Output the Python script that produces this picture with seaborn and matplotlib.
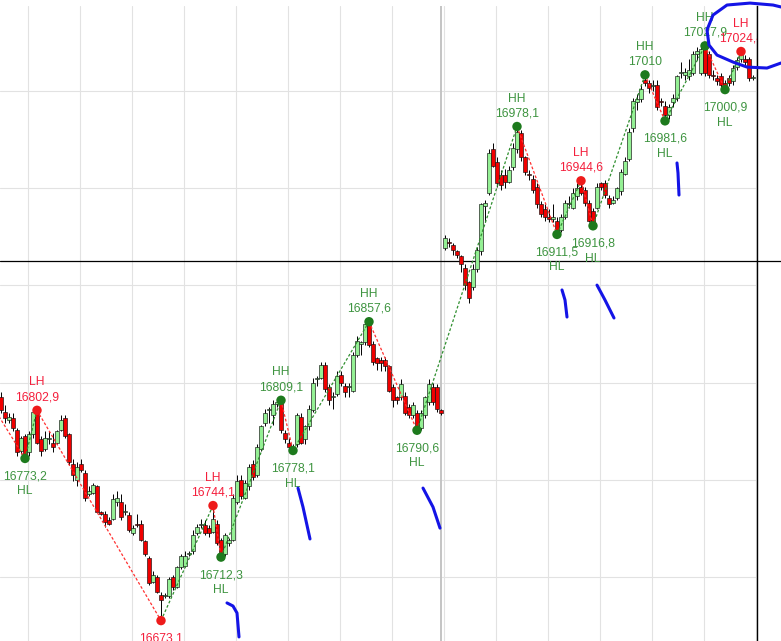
import numpy as np
import pandas as pd
import matplotlib
matplotlib.use("Agg")
import matplotlib.pyplot as plt
import matplotlib.transforms as mtransforms
import seaborn as sns

# ---------------- data ----------------
opens = [
    16811, 16802, 16797, 16798, 16791, 16778, 16787, 16777, 16788, 16802,
    16785, 16779, 16785, 16783, 16783, 16791, 16798, 16788, 16770, 16760,
    16770, 16764, 16751, 16752, 16756, 16740, 16739, 16735, 16736, 16746,
    16746, 16740, 16738, 16727, 16733, 16733, 16722, 16712, 16697, 16700,
    16689, 16688, 16688, 16700, 16694, 16706, 16707, 16714, 16716, 16727,
    16732, 16732, 16730, 16728, 16733, 16723, 16714, 16721, 16723, 16746,
    16760, 16749, 16756, 16770, 16763, 16779, 16795, 16803, 16800, 16807,
    16808, 16789, 16783, 16780, 16782, 16799, 16785, 16793, 16803, 16822,
    16823, 16831, 16817, 16811, 16813, 16825, 16818, 16817, 16815, 16837,
    16844, 16845, 16857, 16844, 16835, 16834, 16834, 16830, 16817, 16811,
    16811, 16812, 16805, 16800, 16801, 16792, 16800, 16808, 16817, 16817,
    16803, 16903, 16907, 16905, 16901, 16898, 16891, 16882, 16879, 16890,
    16901, 16929, 16937, 16964, 16956, 16948, 16948, 16944, 16953, 16964,
    16974, 16959, 16949, 16946, 16941, 16930, 16927, 16922, 16921, 16920,
    16914, 16922, 16930, 16928, 16935, 16941, 16939, 16931, 16926, 16928,
    16943, 16943, 16934, 16931, 16934, 16938, 16949, 16958, 16977, 16993,
    16995, 17007, 17005, 17003, 17004, 16994, 16991, 16985, 16993, 16996,
    17011, 17010, 17009, 17011, 17023, 17011, 17027, 17023, 17010, 17008,
    17009, 17005, 17008, 17006, 17015, 17020, 17020, 17020, 17008,
]
closes = [
    16803, 16798, 16799, 16792, 16777, 16786, 16775, 16788, 16802, 16783,
    16778, 16786, 16785.5, 16780, 16790, 16797, 16787, 16771, 16763, 16768,
    16766, 16749, 16753, 16757, 16740, 16739, 16734, 16733, 16748, 16749,
    16737, 16740.5, 16729, 16730, 16732, 16723, 16714, 16696, 16701, 16691,
    16686, 16689, 16699, 16694, 16706, 16713, 16713, 16715, 16726, 16731,
    16733, 16727, 16727, 16736, 16721, 16713.5, 16726, 16723, 16749, 16759,
    16750, 16758, 16768, 16762, 16780, 16793, 16801, 16804, 16807, 16808,
    16791, 16785, 16780, 16779, 16800, 16783, 16793, 16804, 16820, 16822.5,
    16831, 16816, 16809, 16812, 16824, 16820, 16814, 16817.5, 16837, 16846,
    16845, 16856, 16843, 16833, 16832, 16832, 16830, 16815, 16809, 16809,
    16819, 16801, 16800, 16806, 16793, 16801, 16811, 16819, 16808, 16804,
    16801, 16909, 16906, 16902, 16899, 16893, 16880, 16872, 16890, 16902,
    16930, 16931, 16962, 16954, 16943, 16942, 16944, 16951, 16965, 16975,
    16959, 16950, 16948, 16939, 16930, 16924, 16922, 16921, 16922, 16913,
    16922, 16931, 16931, 16937, 16940, 16937, 16931, 16920, 16918, 16941,
    16941, 16936, 16930, 16933, 16940, 16950, 16957, 16975, 16994, 16995,
    17001, 17005, 17002, 17004, 16990, 16993, 16985, 16990, 16996, 17009,
    17012, 17012, 17013, 17023, 17025, 17026, 17011, 17010, 17009, 17006,
    17004, 17003, 17005, 17014, 17019, 17023, 17018, 17008, 17008.5,
]
highs = [
    16814, 16806, 16801, 16801, 16792, 16787, 16788, 16790, 16803, 16802.9,
    16787, 16790, 16790, 16789, 16791, 16800, 16800, 16789, 16773, 16771,
    16773, 16766, 16756, 16758, 16757, 16741, 16741, 16737, 16751, 16753,
    16751, 16745, 16740, 16732, 16739, 16735, 16723, 16713, 16704, 16701,
    16691, 16690, 16700, 16701, 16707, 16714, 16716, 16716, 16729, 16733,
    16736, 16735, 16732, 16744.1, 16735, 16724, 16727, 16724, 16751, 16763,
    16763, 16760, 16770, 16772, 16782, 16794, 16804, 16805, 16809, 16809,
    16809.1, 16791, 16786, 16782, 16801, 16801, 16794, 16806, 16823, 16824,
    16833, 16833, 16819, 16814, 16827, 16827, 16820, 16820, 16839, 16849,
    16846, 16857, 16857.6, 16846, 16836, 16836, 16836, 16831, 16819, 16812,
    16822, 16814, 16807, 16808, 16803, 16803, 16812, 16822, 16820, 16819,
    16804, 16911, 16909, 16906, 16902, 16899, 16893, 16883, 16893, 16904,
    16931, 16933, 16964, 16968, 16959, 16951, 16952, 16954, 16968, 16978.1,
    16976, 16960, 16951, 16948, 16943, 16932, 16930, 16927, 16930, 16922,
    16924, 16933, 16935, 16940, 16943, 16944.6, 16941, 16933, 16928, 16943,
    16944, 16945, 16936, 16935, 16941, 16952, 16959, 16977, 16996, 16998,
    17004, 17010, 17007, 17007, 17007, 16996, 16994, 16992, 16998, 17010,
    17018, 17014, 17020, 17025, 17027, 17027, 17027.9, 17025, 17013, 17010,
    17011, 17007, 17010, 17016, 17021, 17024.4, 17022, 17021, 17010,
]
lows = [
    16801, 16795, 16795, 16790, 16775, 16776, 16773.2, 16775, 16786, 16782,
    16775, 16778, 16782, 16777, 16782, 16790, 16786, 16769, 16759, 16756,
    16765, 16747, 16750, 16751, 16740, 16738, 16731, 16732, 16735, 16744,
    16735, 16738, 16728, 16726, 16731, 16722, 16713, 16695, 16696, 16690,
    16673.1, 16687, 16687, 16692, 16693, 16705, 16706, 16713, 16714, 16726,
    16730, 16726, 16725, 16727, 16720, 16712.3, 16713, 16719, 16722, 16745,
    16748, 16748, 16754, 16760, 16762, 16778, 16793, 16795, 16794, 16805,
    16789, 16783, 16779, 16778.1, 16780, 16782, 16782, 16791, 16802, 16818,
    16822, 16814, 16806, 16804, 16812, 16818, 16811, 16811, 16814, 16836,
    16837, 16843, 16842, 16831, 16828, 16827, 16827, 16814, 16805, 16807,
    16809, 16800, 16798, 16798, 16790.6, 16791, 16798, 16806, 16806, 16802,
    16800, 16902, 16904, 16899, 16897, 16888, 16877, 16869, 16877, 16888,
    16899, 16919, 16936, 16953, 16941, 16939, 16940, 16943, 16951, 16962,
    16957, 16948, 16945, 16937, 16928, 16922, 16920, 16919, 16919, 16911.5,
    16913, 16921, 16928, 16927, 16933, 16936, 16929, 16919, 16916.8, 16927,
    16939, 16934, 16928, 16930, 16933, 16936, 16948, 16957, 16975, 16988,
    16993, 17003, 16999, 17000, 16988, 16991, 16981.6, 16983, 16990, 16994,
    17008, 17007, 17007, 17010, 17019, 17010, 17009, 17008, 17007, 17004,
    17002, 17000.9, 17003, 17004, 17013, 17018, 17016, 17006, 17007,
]

# zig-zag pivots (bar index, price, type, label)
pivot_idx = [-3, 6, 9, 40, 53, 55, 70, 73, 92, 104, 129, 139, 145, 148, 161, 166, 176, 181, 185]
pivot_price = [16809, 16773.2, 16802.9, 16673.1, 16744.1, 16712.3, 16809.1, 16778.1, 16857.6,
               16790.6, 16978.1, 16911.5, 16944.6, 16916.8, 17010, 16981.6, 17027.9, 17000.9, 17024.4]
pivot_kind = ["LH", "HL", "LH", "LL", "LH", "HL", "HH", "HL", "HH", "HL",
              "HH", "HL", "LH", "HL", "HH", "HL", "HH", "HL", "LH"]
pivot_text = ["", "16773,2", "16802,9", "16673,1", "16744,1", "16712,3", "16809,1", "16778,1",
              "16857,6", "16790,6", "16978,1", "16911,5", "16944,6", "16916,8", "17010",
              "16981,6", "17027,9", "17000,9", "17024,4"]

session_break_idx = 110          # last bar of the first session
ref_price = 16895.0              # horizontal reference (price line)
grid_prices = [16700, 16760, 16820, 16880, 16940, 17000]

# hand-drawn blue annotation strokes (bar index, price)
strokes = [
    ([56.5, 58, 59, 59.5], [16684.0, 16682.1, 16677.8, 16663.0]),
    ([74.25, 75.5, 77.25], [16754.9, 16743.2, 16723.5]),
    ([105.5, 108, 109.75], [16754.9, 16743.2, 16730.2]),
    ([140.25, 141, 141.5], [16877.2, 16871.0, 16860.5]),
    ([149, 151, 153.25], [16880.2, 16871.0, 16859.9]),
    ([169, 169.25, 169.5], [16955.6, 16949.4, 16935.8]),
    ([195, 193, 187.25, 181.5, 178, 176.5, 177, 179, 183, 186.5, 191.5, 195],
     [17051.9, 17053.1, 17054.3, 17053.1, 17046.9, 17037.7, 17028.4, 17022.2,
      17017.9, 17014.8, 17014.2, 17017.3]),
]

# ---------------- figure ----------------
sns.set_style("white")
plt.rcParams["font.family"] = ["Liberation Sans", "DejaVu Sans"]

W, H, DPI = 781, 641, 100
fig = plt.figure(figsize=(W / DPI, H / DPI), dpi=DPI)
ax = fig.add_axes([0, 0, 757 / W, 635 / H])

df = pd.DataFrame({"o": opens, "h": highs, "l": lows, "c": closes})
df["i"] = np.arange(len(df))
up = df["c"] >= df["o"]

# grid
ax.set_xticks([6.8 + 13 * j for j in range(15)])
ax.set_yticks(grid_prices)
ax.grid(True, color="#e2e2e2", linewidth=0.8)
ax.tick_params(length=0, labelleft=False, labelbottom=False)
for s in ["left", "top", "bottom"]:
    ax.spines[s].set_visible(False)
ax.spines["right"].set_color("black")
ax.spines["right"].set_linewidth(1.0)
ax.set_axisbelow(True)

# session separator and price line
ax.axvline(session_break_idx, color="#c4c4c4", lw=1.4, zorder=1)
ax.axhline(ref_price, xmin=0, xmax=W / 757, color="black", lw=0.9, clip_on=False, zorder=2)

# candles
ax.vlines(df["i"], df["l"], df["h"], color="black", lw=0.7, zorder=3)
body_bottom = np.minimum(df["o"], df["c"])
body_h = np.maximum(np.abs(df["c"] - df["o"]), 0.7)
ax.bar(df["i"], body_h, bottom=body_bottom, width=0.8,
       color=np.where(up, "#94f094", "#f00000"), edgecolor="#111111",
       linewidth=0.45, zorder=4)

# zig-zag
for a in range(len(pivot_idx) - 1):
    x0, x1 = pivot_idx[a], pivot_idx[a + 1]
    y0, y1 = pivot_price[a], pivot_price[a + 1]
    col = "#2f8f2f" if y1 > y0 else "#ff3030"
    ax.plot([x0, x1], [y0, y1], color=col, lw=0.9, ls=(0, (2.2, 1.6)), zorder=5)

pv = pd.DataFrame({"x": pivot_idx, "y": pivot_price, "kind": pivot_kind})
pv["side"] = np.where(pv["kind"].isin(["LH", "LL"]), "red", "green")
sns.scatterplot(data=pv, x="x", y="y", hue="side",
                palette={"red": "#ee1b1b", "green": "#1d7a1d"},
                s=46, linewidth=0, legend=False, ax=ax, zorder=6)

# limits last (ticks/artists must not change them)
ax.set_xlim(-0.25, 189.0)
ax.set_ylim(16660.5, 17052.5)

# labels
green_txt = "#3e9440"
red_txt = "#f41f3c"
fs = 8.7
for x, y, k, t in zip(pivot_idx, pivot_price, pivot_kind, pivot_text):
    if x < 0:
        continue
    col = red_txt if k in ("LH", "LL") else green_txt
    top = k in ("HH", "LH")
    off_val = 13 if top else -18
    off_kind = 28 if top else -33
    items = [(t, off_val)]
    if k != "LL":          # the LL tag lies below the visible area
        items.append((k, off_kind))
    for txt, off in items:
        tr = ax.transData + mtransforms.ScaledTranslation(0, off / DPI, fig.dpi_scale_trans)
        ax.text(x, y, txt, transform=tr, ha="center", va="center",
                color=col, fontsize=fs, clip_on=True, zorder=7)

# blue hand annotations
for xs, ys in strokes:
    ax.plot(xs, ys, color="#1414e6", lw=2.2, solid_capstyle="round",
            solid_joinstyle="round", clip_on=False, zorder=8)

fig.savefig("out.png", dpi=DPI, facecolor="white")
